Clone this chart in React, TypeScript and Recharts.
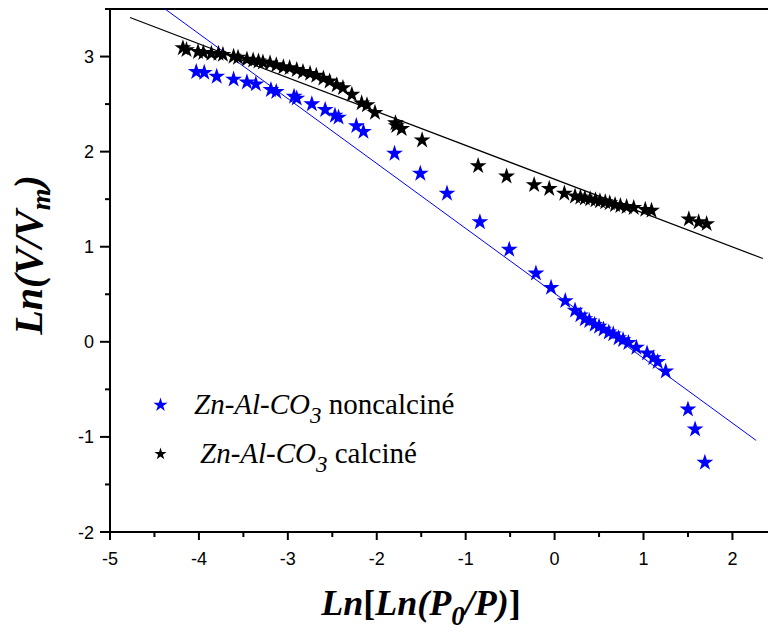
import {
  ScatterChart, Scatter, XAxis, YAxis, ReferenceLine, Legend, Symbols,
} from "recharts";

// Zn-Al-CO3 noncalciné (bleu)
const noncalcineX = [
  -4.03, -3.94, -3.8, -3.61, -3.46, -3.36, -3.19, -3.13, -2.93, -2.9,
  -2.73, -2.58, -2.47, -2.43, -2.23, -2.15, -1.8, -1.51, -1.21, -0.84,
  -0.51, -0.21, -0.04, 0.12, 0.23, 0.29, 0.34, 0.39, 0.45, 0.5,
  0.55, 0.61, 0.66, 0.72, 0.77, 0.83, 0.92, 1.04, 1.11, 1.16,
  1.25, 1.5, 1.58, 1.69,
];
const noncalcineY = [
  2.84, 2.83, 2.79, 2.76, 2.73, 2.71, 2.65, 2.63, 2.58, 2.56,
  2.5, 2.44, 2.38, 2.36, 2.27, 2.21, 1.98, 1.77, 1.56, 1.26,
  0.97, 0.72, 0.57, 0.43, 0.33, 0.28, 0.24, 0.22, 0.18, 0.16,
  0.13, 0.1, 0.08, 0.04, 0.02, -0.01, -0.06, -0.12, -0.17, -0.21,
  -0.31, -0.71, -0.92, -1.27,
];

// Zn-Al-CO3 calciné (noir)
const calcineX = [
  -4.18, -4.14, -4.01, -3.95, -3.86, -3.78, -3.73, -3.61, -3.56, -3.46,
  -3.39, -3.33, -3.28, -3.2, -3.13, -3.05, -2.98, -2.9, -2.83, -2.75,
  -2.68, -2.6, -2.53, -2.45, -2.38, -2.28, -2.17, -2.11, -2.02, -1.79,
  -1.78, -1.72, -1.49, -0.86, -0.54, -0.23, -0.06, 0.11, 0.23, 0.29,
  0.34, 0.4, 0.46, 0.51, 0.57, 0.62, 0.68, 0.74, 0.81, 0.89,
  1.02, 1.09, 1.51, 1.62, 1.71,
];
const calcineY = [
  3.09, 3.07, 3.05, 3.04, 3.03, 3.03, 3.02, 3.0, 2.99, 2.97,
  2.96, 2.95, 2.94, 2.93, 2.91, 2.89, 2.88, 2.86, 2.84, 2.82,
  2.8, 2.77, 2.74, 2.7, 2.67, 2.6, 2.51, 2.49, 2.41, 2.3,
  2.27, 2.24, 2.12, 1.85, 1.74, 1.65, 1.61, 1.56, 1.53, 1.52,
  1.51, 1.5, 1.49, 1.48, 1.47, 1.46, 1.44, 1.43, 1.42, 1.41,
  1.39, 1.38, 1.29, 1.26, 1.24,
];

// droites d'ajustement (extrémités)
const noncalcineFit = [{ x: -4.381, y: 3.5 }, { x: 2.267, y: -1.037 }];
const calcineFit = [{ x: -4.775, y: 3.41 }, { x: 2.342, y: 0.876 }];

const xTicks = [-5, -4.5, -4, -3.5, -3, -2.5, -2, -1.5, -1, -0.5, 0, 0.5, 1, 1.5, 2];
const yTicks = [-2, -1.5, -1, -0.5, 0, 0.5, 1, 1.5, 2, 2.5, 3, 3.5];

const legendItems = [
  { name: "noncalciné", color: "#0000ff", size: 62 },
  { name: "calciné", color: "#000000", size: 46 },
];

const zip = (xs: number[], ys: number[]) => xs.map((x, i) => ({ x, y: ys[i] }));
const noncalcine = zip(noncalcineX, noncalcineY);
const calcine = zip(calcineX, calcineY);

const SANS = "'Liberation Sans', Arial, sans-serif";
const SERIF = "'Liberation Serif', 'Times New Roman', serif";
const STAR = 88;

const starShape = (color: string) => (p: any) => (
  <Symbols cx={p.cx} cy={p.cy} type="star" size={STAR} fill={color} />
);

function XTick({ x, y, payload }: any) {
  const major = Number.isInteger(payload.value);
  return (
    <g>
      <line x1={x} y1={y} x2={x} y2={y + (major ? 8 : 5)} stroke="#000" strokeWidth={2} />
      {major && (
        <text x={x} y={y + 33} textAnchor="middle" fontSize={18} fontFamily={SANS} fill="#000">
          {payload.value}
        </text>
      )}
    </g>
  );
}

function YTick({ x, y, payload }: any) {
  const major = Number.isInteger(payload.value);
  return (
    <g>
      <line x1={x} y1={y} x2={x - (major ? 10 : 5)} y2={y} stroke="#000" strokeWidth={2} />
      {major && payload.value !== 3.5 && (
        <text x={x - 16} y={y + 6.5} textAnchor="end" fontSize={18} fontFamily={SANS} fill="#000">
          {payload.value}
        </text>
      )}
    </g>
  );
}

function XTitle({ viewBox }: any) {
  const cx = viewBox.x + 311;
  const by = viewBox.y + 83;
  return (
    <text x={cx} y={by} textAnchor="middle" fontFamily={SERIF} fontSize={36} fontWeight="bold" fontStyle="italic" fill="#000">
      <tspan>Ln</tspan>
      <tspan fontStyle="normal">[</tspan>
      <tspan>Ln(P</tspan>
      <tspan fontSize={27} dy={10}>0</tspan>
      <tspan dy={-10}>/P)</tspan>
      <tspan fontStyle="normal">]</tspan>
    </text>
  );
}

function YTitle({ viewBox }: any) {
  const bx = 42;
  const cy = viewBox.y + 246;
  return (
    <text x={bx} y={cy} transform={`rotate(-90 ${bx} ${cy})`} textAnchor="middle" fontFamily={SERIF} fontSize={40} fontWeight="bold" fontStyle="italic" fill="#000">
      <tspan>Ln(V/V</tspan>
      <tspan fontSize={28} dy={8}>m</tspan>
      <tspan dy={-8}>)</tspan>
    </text>
  );
}

function LegendBox() {
  return (
    <svg width={340} height={100} style={{ display: "block" }}>
      {legendItems.map((it, i) => {
        const cy = 25 + i * 49;
        const tx = 54 + i * 6;
        return (
          <g key={it.name}>
            <Symbols cx={20.5} cy={cy} type="star" size={it.size} fill={it.color} />
            <text x={tx} y={cy + 8.5} fontFamily={SERIF} fontSize={29} fill="#000">
              <tspan fontStyle="italic">Zn-Al-CO</tspan>
              <tspan fontStyle="italic" fontSize={23} dy={9}>3</tspan>
              <tspan dy={-9}>{" " + it.name}</tspan>
            </text>
          </g>
        );
      })}
    </svg>
  );
}

export default function App() {
  return (
    <div style={{ position: "absolute", left: 0, top: 0, background: "#fff" }}>
      <ScatterChart width={768} height={632} margin={{ top: 9, right: 0, bottom: 0, left: 0 }}>
        <XAxis
          type="number"
          dataKey="x"
          domain={[-5, 2.4]}
          ticks={xTicks}
          allowDataOverflow
          height={100}
          axisLine={{ stroke: "#000", strokeWidth: 2 }}
          tickLine={false}
          tickSize={0}
          tickMargin={0}
          tick={<XTick />}
          interval={0}
          label={{ content: (p: any) => <XTitle {...p} /> }}
        />
        <YAxis
          type="number"
          dataKey="y"
          domain={[-2, 3.5]}
          ticks={yTicks}
          allowDataOverflow
          width={110}
          axisLine={{ stroke: "#000", strokeWidth: 2 }}
          tickLine={false}
          tickSize={0}
          tickMargin={0}
          tick={<YTick />}
          interval={0}
          label={{ content: (p: any) => <YTitle {...p} /> }}
        />
        <ReferenceLine y={3.5} stroke="#000" strokeWidth={2} />
        <ReferenceLine segment={calcineFit} stroke="#000" strokeWidth={1.2} />
        <Scatter name="calciné" data={calcine} fill="#000000" shape={starShape("#000000")} isAnimationActive={false} />
        <ReferenceLine segment={noncalcineFit} stroke="#0000ff" strokeWidth={1} />
        <Scatter name="noncalciné" data={noncalcine} fill="#0000ff" shape={starShape("#0000ff")} isAnimationActive={false} />
        <Legend
          layout="vertical"
          align="center"
          verticalAlign="middle"
          content={() => <LegendBox />}
          wrapperStyle={{ left: 140, top: 380, width: 340, height: 100 }}
        />
      </ScatterChart>
    </div>
  );
}
